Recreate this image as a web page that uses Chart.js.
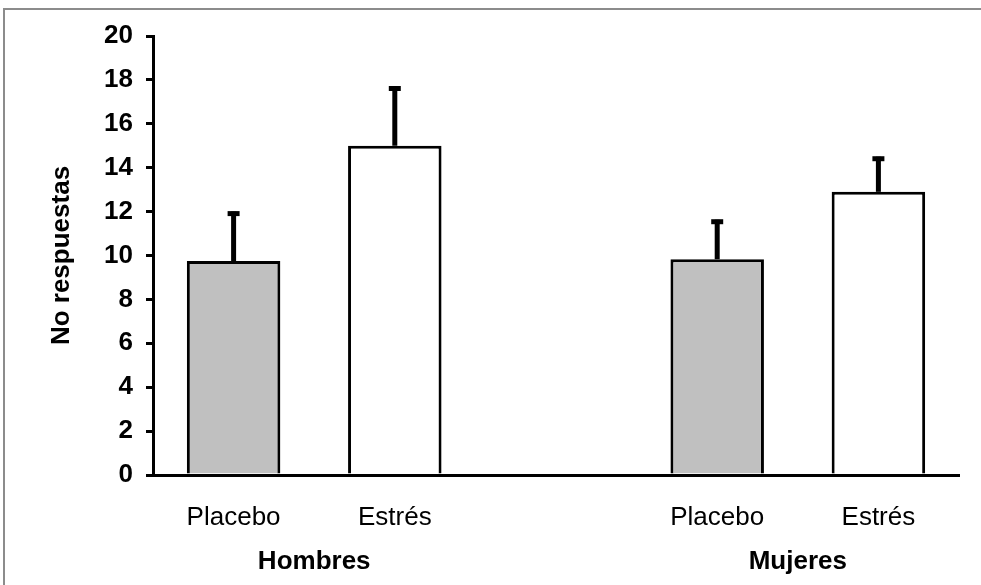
<!DOCTYPE html>
<html>
<head>
<meta charset="utf-8">
<script src="https://cdn.jsdelivr.net/npm/chart.js@4"></script>
<style>
  html, body { margin: 0; padding: 0; background: #fff; }
  #wrap { position: relative; width: 981px; height: 585px; overflow: hidden; }
  #frame { position: absolute; left: 3px; top: 8px; width: 1000px; height: 600px; border: 2px solid #8c8c8c; border-right: none; border-bottom: none; }
  #chart { position: absolute; left: 0; top: 0; }
</style>
</head>
<body>
<div id="wrap">
  <div id="frame"></div>
  <canvas id="chart" width="981" height="585"></canvas>
</div>
<script>
const labels = ['Placebo', 'Estrés', '', 'Placebo', 'Estrés'];
const groups = ['Hombres', 'Mujeres'];
const values = [9.75, 15.0, null, 9.83, 12.9];
const errors = [2.25, 2.7, null, 1.8, 1.6];
const fills = ['#c0c0c0', '#ffffff', '#ffffff', '#c0c0c0', '#ffffff'];
const yTicks = [0, 2, 4, 6, 8, 10, 12, 14, 16, 18, 20];

const FONT = '"Liberation Sans", Arial, sans-serif';

// error bars, upward only
const errorBars = {
    id: 'errorBars',
    afterDatasetsDraw(chart) {
        const ctx = chart.ctx;
        const yScale = chart.scales.y;
        const meta = chart.getDatasetMeta(0);
        ctx.save();
        ctx.strokeStyle = '#000';
        meta.data.forEach((bar, i) => {
            if (values[i] == null || errors[i] == null) return;
            const top = yScale.getPixelForValue(values[i] + errors[i]);
            ctx.lineWidth = 5;
            ctx.beginPath();
            ctx.moveTo(bar.x, bar.y);
            ctx.lineTo(bar.x, top);
            ctx.stroke();
            ctx.beginPath();
            ctx.moveTo(bar.x - 6, top + 2);
            ctx.lineTo(bar.x + 6, top + 2);
            ctx.stroke();
        });
        ctx.restore();
    }
};

// group names under the tick labels
const groupLabels = {
    id: 'groupLabels',
    afterDraw(chart) {
        const ctx = chart.ctx;
        const x = chart.scales.x;
        ctx.save();
        ctx.font = 'bold 26px ' + FONT;
        ctx.fillStyle = '#000';
        ctx.textAlign = 'center';
        ctx.textBaseline = 'middle';
        ctx.fillText(groups[0], (x.getPixelForValue(0) + x.getPixelForValue(1)) / 2, 562);
        ctx.fillText(groups[1], (x.getPixelForValue(3) + x.getPixelForValue(4)) / 2, 562);
        ctx.restore();
    }
};

new Chart(document.getElementById('chart'), {
    type: 'bar',
    data: {
        labels: labels,
        datasets: [{
            data: values,
            backgroundColor: fills,
            borderColor: '#000',
            borderWidth: 3,
            barPercentage: 0.58,
            categoryPercentage: 1.0
        }]
    },
    options: {
        responsive: false,
        animation: false,
        layout: { padding: { top: 36, right: 22, left: 0, bottom: 0 } },
        plugins: { legend: { display: false }, tooltip: { enabled: false } },
        scales: {
            x: {
                grid: { display: false, drawTicks: false },
                border: { color: '#000', width: 3 },
                ticks: { color: '#000', font: { family: FONT, size: 26 }, padding: 27, maxRotation: 0 },
                afterFit(scale) { scale.height = 110; }
            },
            y: {
                min: 0,
                max: 20,
                afterBuildTicks(scale) { scale.ticks = yTicks.map(v => ({ value: v })); },
                grid: { drawOnChartArea: false, drawTicks: true, tickLength: 7, color: '#000', lineWidth: 3 },
                border: { color: '#000', width: 3 },
                ticks: { color: '#000', font: { family: FONT, size: 26, weight: 'bold' }, padding: 13 },
                title: {
                    display: true,
                    text: 'No respuestas',
                    color: '#000',
                    font: { family: FONT, size: 26, weight: 'bold' },
                    padding: { top: 46, bottom: 0 }
                },
                afterFit(scale) { scale.width = 153; }
            }
        }
    },
    plugins: [errorBars, groupLabels]
});
</script>
</body>
</html>
